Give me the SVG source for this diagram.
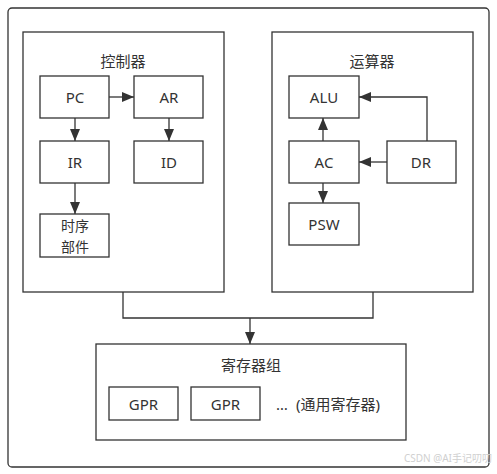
<svg xmlns="http://www.w3.org/2000/svg" width="497" height="474" viewBox="0 0 497 474">
<style>
.box{fill:#fff;stroke:#333;stroke-width:1.3}
.t{font-family:"Noto Sans","Noto Sans CJK SC",sans-serif;font-size:15px;fill:#333;text-anchor:middle;dominant-baseline:central}
.s{font-size:14px}
.ln{fill:none;stroke:#333;stroke-width:1.3}
.ar{fill:none;stroke:#333;stroke-width:1.3;marker-end:url(#ah)}
</style>
<defs>
<marker id="ah" viewBox="0 0 12 10" refX="12" refY="5" markerWidth="12" markerHeight="10" markerUnits="userSpaceOnUse" orient="auto">
<path d="M0,0 L12,5 L0,10 z" fill="#333"/>
</marker>
</defs>
<rect width="497" height="474" fill="#fff"/>
<g id="frame"><rect x="8" y="8" width="481" height="459" rx="4" class="box"/></g>
<g id="controller"><rect x="23" y="32" width="201" height="260" class="box"/><text x="123" y="61" class="t">控制器</text></g>
<g id="alu-unit"><rect x="272" y="32" width="201" height="260" class="box"/><text x="372" y="61" class="t">运算器</text></g>
<g id="PC"><rect x="40" y="76" width="69" height="42" class="box"/><text x="75" y="97" class="t">PC</text></g>
<g id="AR"><rect x="134" y="76" width="69" height="42" class="box"/><text x="169" y="97" class="t">AR</text></g>
<g id="IR"><rect x="40" y="141" width="69" height="42" class="box"/><text x="75" y="162" class="t">IR</text></g>
<g id="ID"><rect x="134" y="141" width="69" height="42" class="box"/><text x="169" y="162" class="t">ID</text></g>
<g id="timing"><rect x="40" y="214" width="69" height="43" class="box"/><text x="75" y="225.5" class="t s">时序</text><text x="75" y="246" class="t s">部件</text></g>
<g id="ALU"><rect x="289" y="76" width="70" height="42" class="box"/><text x="324" y="97" class="t">ALU</text></g>
<g id="AC"><rect x="289" y="141" width="70" height="42" class="box"/><text x="324" y="162" class="t">AC</text></g>
<g id="DR"><rect x="387" y="141" width="69" height="42" class="box"/><text x="421" y="162" class="t">DR</text></g>
<g id="PSW"><rect x="289" y="203" width="70" height="42" class="box"/><text x="324" y="224" class="t">PSW</text></g>
<g id="regs"><rect x="96" y="344" width="310" height="96" class="box"/><text x="251" y="365" class="t">寄存器组</text></g>
<g id="GPR1"><rect x="109" y="387" width="69" height="33" class="box"/><text x="143.5" y="404" class="t">GPR</text></g>
<g id="GPR2"><rect x="191" y="387" width="69" height="33" class="box"/><text x="225.5" y="404" class="t">GPR</text></g>
<g id="more"><text x="276" y="404" class="t" style="text-anchor:start">…</text><text x="296" y="404" class="t" style="text-anchor:start">(通用寄存器)</text></g>
<g id="connectors">
<line x1="109" y1="97" x2="134" y2="97" class="ar"/>
<line x1="75" y1="118" x2="75" y2="141" class="ar"/>
<line x1="169" y1="118" x2="169" y2="141" class="ar"/>
<line x1="75" y1="183" x2="75" y2="214" class="ar"/>
<line x1="323" y1="141" x2="323" y2="118" class="ar"/>
<line x1="387" y1="162" x2="359" y2="162" class="ar"/>
<polyline points="427,141 427,97 359,97" class="ar"/>
<line x1="323" y1="183" x2="323" y2="203" class="ar"/>
<polyline points="123,292 123,318 373,318 373,292" class="ln"/>
<line x1="250" y1="318" x2="250" y2="344" class="ar"/>
</g>
<text x="492" y="462" style="font-family:'Noto Sans','Noto Sans CJK SC',sans-serif;font-size:10px;fill:#d0d0d0;text-anchor:end">CSDN @AI手记叨叨</text>
</svg>
